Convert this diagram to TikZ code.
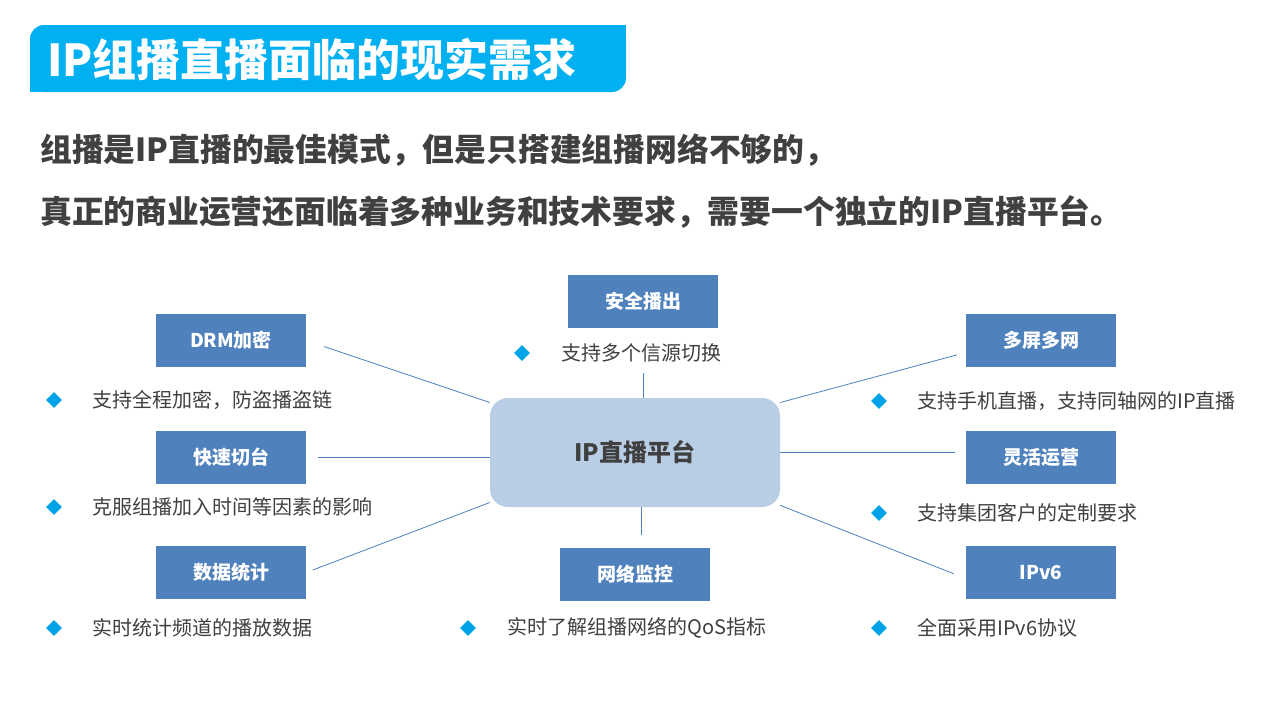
\documentclass[tikz,border=0pt]{standalone}
\usepackage{fontspec}
\setmainfont{Noto Sans CJK SC}
\usetikzlibrary{shapes.geometric}
\definecolor{titlecyan}{HTML}{00B0F0}
\definecolor{boxblue}{HTML}{4F81BD}
\definecolor{hubblue}{HTML}{B9CDE5}
\definecolor{textgray}{HTML}{404040}
\definecolor{dotcyan}{HTML}{00A2E8}
\begin{document}
\begin{tikzpicture}[x=1pt,y=-1pt,
    tag/.style={fill=boxblue, text=white, inner sep=0pt,
        minimum width=150pt, minimum height=53pt,
        font=\fontsize{19}{22}\selectfont\bfseries},
    hub/.style={fill=hubblue, text=textgray, rounded corners=18pt, inner sep=0pt,
        minimum width=290pt, minimum height=109pt,
        font=\fontsize{24}{28}\selectfont\bfseries},
    note/.style={anchor=west, text=textgray, inner sep=0pt,
        font=\fontsize{20}{24}\selectfont},
    dot/.style={diamond, fill=dotcyan, inner sep=0pt, minimum size=16pt},
    link/.style={draw=boxblue, line width=0.8pt}]
    \useasboundingbox (0,0) rectangle (1280,720);
    \fill[white] (0,0) rectangle (1280,720);

    \fill[titlecyan, rounded corners=14pt] (30,25) rectangle (626,92);
    \fill[titlecyan] (596,25) rectangle (626,55);
    \fill[titlecyan] (30,62) rectangle (60,92);
    \node[anchor=west, text=white, inner sep=0pt,
        font=\fontsize{44}{48}\selectfont\bfseries] (title) at (47,59) {IP组播直播面临的现实需求};

    \node[anchor=west, text=textgray, inner sep=0pt,
        font=\fontsize{31.8}{36}\selectfont\bfseries] (lead1) at (40,150) {组播是IP直播的最佳模式，但是只搭建组播网络不够的，};
    \node[anchor=west, text=textgray, inner sep=0pt,
        font=\fontsize{31.8}{36}\selectfont\bfseries] (lead2) at (40,212) {真正的商业运营还面临着多种业务和技术要求，需要一个独立的IP直播平台。};

    \node[hub] (hub)      at (635,452.5)  {IP直播平台};
    \node[tag] (anquan)   at (643,301.5)  {安全播出};
    \node[tag] (drm)      at (231,340.5)  {DRM加密};
    \node[tag] (kuaisu)   at (231,457.5)  {快速切台};
    \node[tag] (tongji)   at (231,572.5)  {数据统计};
    \node[tag] (jiankong) at (635,574.5)  {网络监控};
    \node[tag] (duoping)  at (1041,340.5) {多屏多网};
    \node[tag] (linghuo)  at (1041,457.5) {灵活运营};
    \node[tag] (ipv6)     at (1041,572.5) {IPv6};

    \node[dot]  (d-anquan)   at (522,353) {};
    \node[note] (n-anquan)   at (561,353) {支持多个信源切换};
    \node[dot]  (d-drm)      at (54,400)  {};
    \node[note] (n-drm)      at (92,400)  {支持全程加密，防盗播盗链};
    \node[dot]  (d-kuaisu)   at (54,507)  {};
    \node[note] (n-kuaisu)   at (92,507)  {克服组播加入时间等因素的影响};
    \node[dot]  (d-tongji)   at (54,628)  {};
    \node[note] (n-tongji)   at (92,628)  {实时统计频道的播放数据};
    \node[dot]  (d-jiankong) at (468,628) {};
    \node[note] (n-jiankong) at (507,628) {实时了解组播网络的QoS指标};
    \node[dot]  (d-duoping)  at (879,401) {};
    \node[note] (n-duoping)  at (917,401) {支持手机直播，支持同轴网的IP直播};
    \node[dot]  (d-linghuo)  at (879,513) {};
    \node[note] (n-linghuo)  at (917,513) {支持集团客户的定制要求};
    \node[dot]  (d-ipv6)     at (879,628) {};
    \node[note] (n-ipv6)     at (917,628) {全面采用IPv6协议};

    \draw[link, shorten <=19pt] (drm.east) -- (hub.161);
    \draw[link, shorten <=12pt] (kuaisu.east) -- (kuaisu.east -| hub.west);
    \draw[link, shorten <=7pt]  (tongji.east) -- (hub.199);
    \draw[link, shorten <=45pt] (anquan.south) -- (anquan.south |- hub.north);
    \draw[link, shorten >=13pt] ([xshift=6pt]hub.south) -- ([xshift=6pt]jiankong.north);
    \draw[link, shorten >=9pt]  (hub.19) -- ([yshift=-12pt]duoping.west);
    \draw[link, shorten >=11pt] (hub.east) -- (hub.east -| linghuo.west);
    \draw[link, shorten >=13pt] (hub.-20) -- ([yshift=-6pt]ipv6.west);
\end{tikzpicture}
\end{document}
